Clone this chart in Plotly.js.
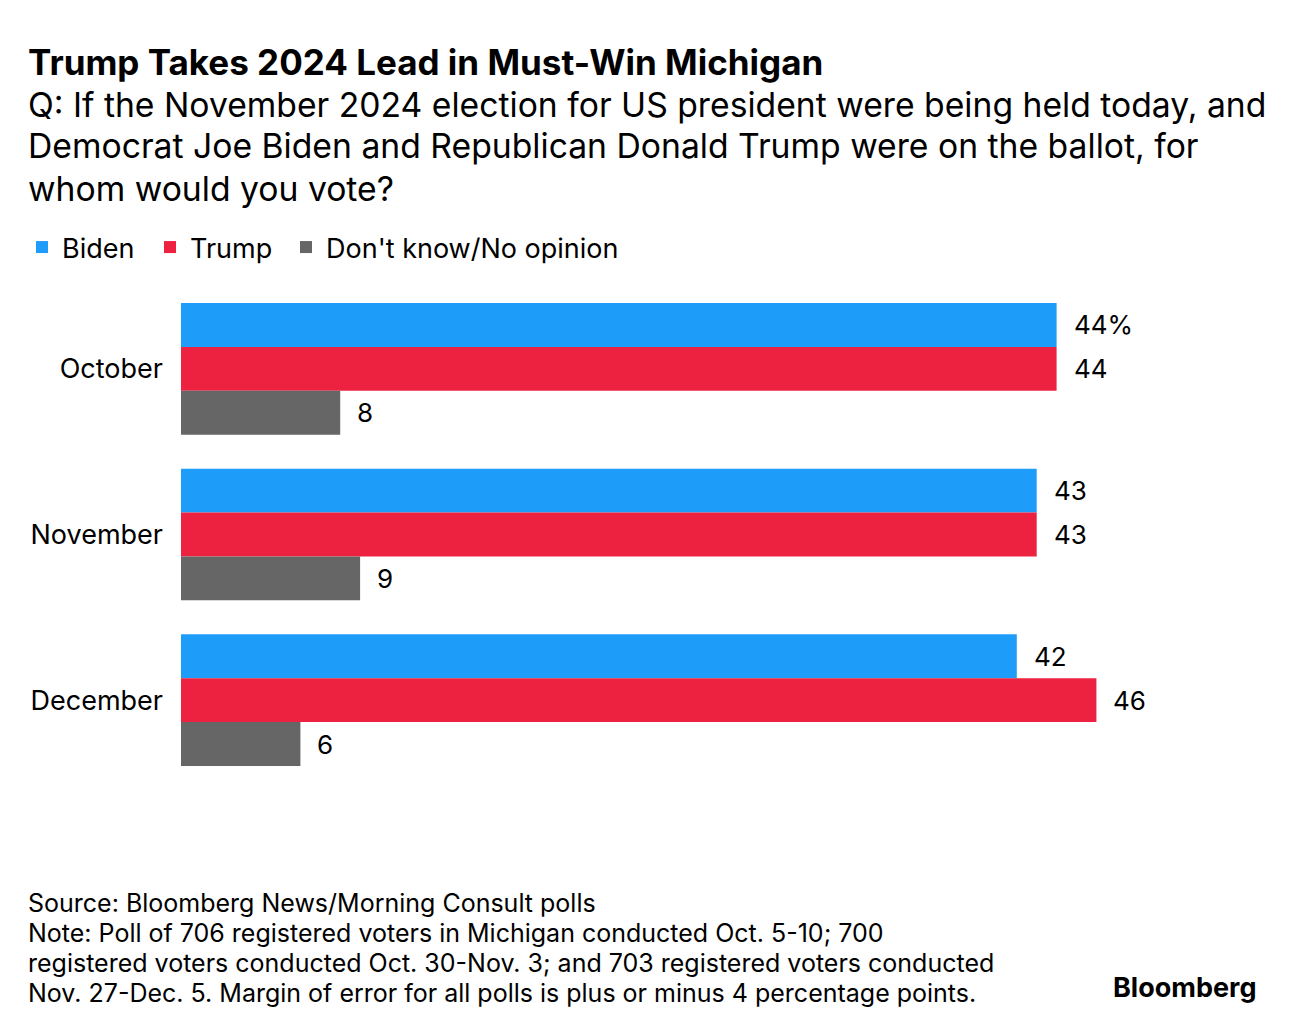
<!DOCTYPE html>
<html>
<head>
<meta charset="utf-8">
<script src="https://cdn.plot.ly/plotly-3.0.1.min.js"></script>
<style>
html,body{margin:0;padding:0;background:#fff;}
#chart{width:1296px;height:1032px;}
</style>
</head>
<body>
<div id="chart"></div>
<script>
const categories = ["October", "November", "December"];
const bidenValues = [44, 43, 42];
const trumpValues = [44, 43, 46];
const dkValues = [8, 9, 6];
const seriesNames = ["Biden", "Trump", "Don't know/No opinion"];
const seriesColors = ["#1e9cfa", "#ec2240", "#666666"];
const subtitleLines = [
  "Q: If the November 2024 election for US president were being held today, and",
  "Democrat Joe Biden and Republican Donald Trump were on the ballot, for",
  "whom would you vote?"
];
const footerLines = [
  "Source: Bloomberg News/Morning Consult polls",
  "Note: Poll of 706 registered voters in Michigan conducted Oct. 5-10; 700",
  "registered voters conducted Oct. 30-Nov. 3; and 703 registered voters conducted",
  "Nov. 27-Dec. 5. Margin of error for all polls is plus or minus 4 percentage points."
];

const FONT = "Inter, 'Noto Sans', Arial, sans-serif";
const allSeries = [bidenValues, trumpValues, dkValues];
const legendIds = ["legend", "legend2", "legend3"];

const traces = allSeries.map((vals, i) => ({
  type: "bar",
  orientation: "h",
  name: seriesNames[i],
  legend: legendIds[i],
  y: categories,
  x: vals,
  marker: {color: seriesColors[i], line: {width: 0}},
  hoverinfo: "x+name"
}));

const PL = 181, PR = 120, PT = 286, PB = 249, W = 1296, H = 1032;
function px2paperX(px){ return (px - PL) / (W - PL - PR); }
function px2paperY(py){ return (H - PB - py) / (H - PT - PB); }

const annotations = [];
annotations.push({
  xref: "paper", yref: "paper", x: px2paperX(26), y: px2paperY(62), xanchor: "left", yanchor: "middle",
  text: "<b>Trump Takes 2024 Lead in Must-Win Michigan</b>",
  showarrow: false, font: {family: FONT, size: 35, color: "#000"}
});
subtitleLines.forEach((t, i) => {
  annotations.push({xref: "paper", yref: "paper", x: px2paperX(26), y: px2paperY(104 + 42 * i),
    xanchor: "left", yanchor: "middle", text: t, showarrow: false,
    font: {family: FONT, size: 33.7, color: "#000"}});
});
// value labels
const shifts = [44, 0, -44];
allSeries.forEach((vals, si) => {
  vals.forEach((v, ci) => {
    annotations.push({
      xref: "x", yref: "y", x: v, y: categories[ci],
      xanchor: "left", yanchor: "middle",
      xshift: 15, yshift: shifts[si],
      text: (si === 0 && ci === 0) ? v + "%" : String(v),
      showarrow: false, font: {family: FONT, size: 26, color: "#000"}
    });
  });
});
footerLines.forEach((t, i) => {
  annotations.push({xref: "paper", yref: "paper", x: px2paperX(26), y: px2paperY(903 + 30 * i),
    xanchor: "left", yanchor: "middle", text: t, showarrow: false,
    font: {family: FONT, size: 25, color: "#000"}});
});
annotations.push({xref: "paper", yref: "paper", x: px2paperX(1258), y: px2paperY(987),
  xanchor: "right", yanchor: "middle", text: "<b>Bloomberg</b>", showarrow: false,
  font: {family: FONT, size: 27, color: "#000"}});

const legendX = [22, 150, 286];
function legendCfg(px){
  return {orientation: "h", x: px2paperX(px), xanchor: "left",
          y: 1 - 223 / H, yref: "container", yanchor: "top",
          font: {family: FONT, size: 27, color: "#000"}};
}

const layout = {
  width: W, height: H,
  paper_bgcolor: "#fff", plot_bgcolor: "#fff",
  margin: {l: PL, r: PR, t: PT, b: PB},
  barmode: "group", bargap: 0.205, bargroupgap: 0,
  showlegend: true,
  legend: legendCfg(legendX[0]),
  legend2: legendCfg(legendX[1]),
  legend3: legendCfg(legendX[2]),
  xaxis: {range: [0, 50], visible: false, fixedrange: true},
  yaxis: {autorange: "reversed", showgrid: false, zeroline: false, showline: false, ticks: "",
          ticklabelstandoff: 17,
          tickfont: {family: FONT, size: 27, color: "#000"}, fixedrange: true},
  font: {family: FONT, color: "#000"},
  annotations: annotations
};

Plotly.newPlot("chart", traces, layout, {displayModeBar: false, staticPlot: true});
</script>
</body>
</html>
